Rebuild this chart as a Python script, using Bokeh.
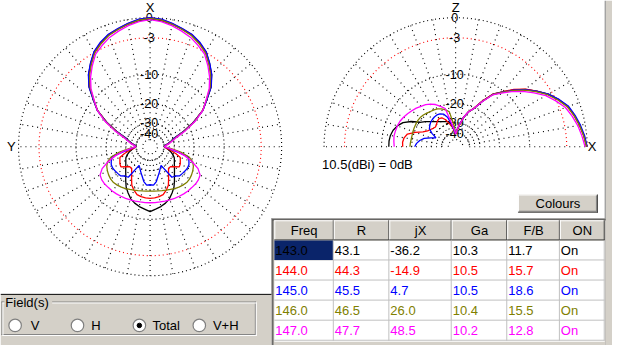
import numpy as np
from bokeh.plotting import figure
from bokeh.models import Range1d
from bokeh.core.properties import value
from bokeh.embed import file_html
from bokeh.resources import INLINE

# ---------------- data ----------------
freqs = ["143.0", "144.0", "145.0", "146.0", "147.0"]
colors = ["#000000", "#ff0000", "#0000ff", "#808000", "#ff00ff"]

# pattern sampling angles (deg), 0 = forward, symmetric pattern
angles = list(range(0, 181, 5))

# azimuth (horizontal plane) pattern, dB relative to 10.5 dBi
az_143 = [-0.2, -0.35, -0.7, -1.1, -1.5, -2.15, -2.9, -4.4, -5.9, -7.7, -10.1, -13.3, -17.9, -23.6, -29.4, -32.6, -35.6, -38.6, -39.5,
          -37.3, -35.0, -32.3, -30.0, -28.8, -28.1, -27.3, -26.2, -24.8, -23.1, -20.7, -18.7, -17.3, -15.8, -14.8, -14.0, -13.4, -12.6]
az_144 = [0.0, -0.2, -0.6, -1.05, -1.45, -2.15, -2.95, -4.5, -6.0, -7.8, -10.2, -13.3, -17.8, -23.4, -29.1, -32.2, -35.2, -38.3, -39.5,
          -37.7, -33.5, -28.9, -26.0, -25.4, -24.6, -24.2, -26.2, -27.7, -27.8, -26.0, -23.5, -20.3, -18.9, -17.8, -17.4, -17.2, -17.1]
az_145 = [0.0, -0.15, -0.55, -1.0, -1.4, -2.05, -2.85, -4.35, -5.85, -7.65, -10.0, -13.2, -17.8, -23.5, -29.3, -32.4, -35.4, -38.5, -39.5,
          -35.5, -29.3, -22.3, -21.3, -20.5, -20.3, -20.5, -20.8, -21.0, -22.5, -23.0, -32.3, -30.2, -28.5, -26.6, -24.0, -22.3, -22.6]
az_146 = [-0.1, -0.3, -0.7, -1.15, -1.6, -2.3, -3.1, -4.65, -6.2, -8.0, -10.3, -13.3, -17.6, -23.0, -28.6, -31.8, -34.9, -38.1, -39.5,
          -33.0, -26.5, -21.8, -19.5, -18.7, -18.2, -17.8, -17.5, -17.4, -17.6, -17.9, -18.2, -18.6, -18.9, -19.2, -19.4, -19.5, -19.5]
az_147 = [-0.3, -0.5, -0.9, -1.4, -1.9, -2.6, -3.4, -4.95, -6.5, -8.2, -10.4, -13.2, -17.2, -22.3, -27.8, -31.0, -34.3, -37.6, -39.5,
          -35.0, -28.5, -24.0, -19.7, -17.0, -15.4, -15.0, -14.9, -15.0, -15.0, -15.1, -15.2, -15.3, -15.4, -15.5, -15.6, -15.6, -15.6]

# elevation pattern (0 = horizon forward, 90 = zenith, 180 = horizon back)
el_143 = [-0.1, -0.4, -0.8, -1.25, -1.75, -2.6, -3.75, -5.3, -6.8, -8.5, -10.4, -12.8, -16.7, -20.4, -23.0, -26.5, -31.3, -36.5, -41.0,
          -36.0, -31.0, -28.9, -28.5, -28.0, -27.3, -26.5, -25.4, -23.9, -22.1, -20.2, -17.5, -15.3, -14.0, -13.1, -12.6, -12.4, -12.4]
el_144 = [0.0, -0.4, -0.85, -1.3, -1.8, -2.65, -3.8, -5.3, -6.75, -8.4, -10.3, -12.7, -16.6, -20.3, -23.0, -26.6, -31.4, -36.6, -41.0,
          -37.0, -33.0, -30.0, -27.5, -25.8, -25.5, -26.2, -27.2, -27.9, -27.5, -26.8, -25.9, -24.0, -20.5, -18.0, -17.2, -16.9, -17.0]
el_145 = [0.0, -0.3, -0.7, -1.15, -1.65, -2.55, -3.75, -5.35, -6.9, -8.6, -10.5, -13.0, -16.9, -20.6, -23.2, -26.7, -31.4, -36.6, -41.0,
          -37.0, -31.0, -26.5, -24.3, -23.5, -23.3, -23.5, -23.9, -24.4, -25.2, -26.1, -28.5, -32.5, -29.0, -25.8, -23.8, -22.4, -21.5]
el_146 = [-0.1, -0.45, -0.85, -1.3, -1.85, -2.75, -3.95, -5.5, -7.0, -8.7, -10.6, -13.0, -16.9, -20.5, -23.1, -26.6, -31.3, -36.5, -41.0,
          -31.0, -24.0, -22.5, -21.4, -20.7, -20.3, -20.0, -19.7, -19.4, -19.2, -19.2, -19.3, -19.4, -19.5, -19.6, -19.6, -19.5, -19.4]
el_147 = [-0.3, -0.7, -1.1, -1.6, -2.15, -3.1, -4.3, -5.9, -7.4, -9.0, -10.9, -13.2, -17.0, -20.5, -23.0, -26.4, -31.1, -36.3, -41.0,
          -36.0, -29.5, -21.8, -20.0, -18.8, -17.9, -17.2, -16.7, -16.1, -15.6, -15.1, -14.6, -14.2, -14.0, -13.9, -13.8, -14.0, -14.2]

ring_db = [0, -3, -10, -20, -30, -40]
ring_labels = ["0", "-3", "-10", "-20", "-30", "-40"]
ref_label = "10.5(dBi) = 0dB"

col_names = ["Freq", "R", "jX", "Ga", "F/B", "ON"]
res_r = ["43.1", "44.3", "45.5", "46.5", "47.7"]
res_jx = ["-36.2", "-14.9", "4.7", "26.0", "48.5"]
gain = ["10.3", "10.5", "10.5", "10.4", "10.2"]
fb = ["11.7", "15.7", "18.6", "15.5", "12.8"]
on = ["On", "On", "On", "On", "On"]
fields = ["V", "H", "Total", "V+H"]
field_selected = "Total"

# ---------------- helpers ----------------
DB_PTS = [-50, -40, -30, -20, -10, -3, 0]
R_PTS = [7.5, 14, 25, 45, 76, 114, 135]


def rad(db):
    return np.interp(np.asarray(db, float), DB_PTS, R_PTS)


FONT = value("Liberation Sans")
GRAY = "#d4d0c8"
DARK = "#808080"

W, H = 628, 361
p = figure(width=612, height=345, x_range=Range1d(0, W), y_range=Range1d(H, 0),
           x_axis_type=None, y_axis_type=None, toolbar_location=None,
           output_backend="svg", min_border=0, outline_line_color=None,
           background_fill_color="white", border_fill_color="white")


def txt(x, y, s, size="13px", align="left", color="#000000", baseline="middle"):
    p.text(x=[x], y=[y], text=[s], text_font=FONT, text_font_size=value(size),
           text_align=align, text_baseline=baseline, text_color=color)


def hline(x0, x1, y, color, w=1):
    p.segment(x0=[x0], y0=[y], x1=[x1], y1=[y], line_color=color, line_width=w)


def vline(x, y0, y1, color, w=1):
    p.segment(x0=[x], y0=[y0], x1=[x], y1=[y1], line_color=color, line_width=w)


AZ_C = (153.5, 153)
EL_C = (467, 153)

# ---- grids ----
t_full = np.radians(np.linspace(0, 360, 361))
t_half = np.radians(np.linspace(-90, 90, 181))
for (cx, cy), tt in ((AZ_C, t_full), (EL_C, t_half)):
    for db in ring_db + [-50]:
        r = float(rad(db))
        p.line(cx + r * np.sin(tt), cy - r * np.cos(tt),
               line_color="#ff0000" if db == -3 else "#000000",
               line_dash="1 3", line_width=1.15)

spk_xs, spk_ys = [], []
for a in range(0, 360, 10):
    t = np.radians(a)
    spk_xs.append([AZ_C[0] + 14 * np.sin(t), AZ_C[0] + 135 * np.sin(t)])
    spk_ys.append([AZ_C[1] - 14 * np.cos(t), AZ_C[1] - 135 * np.cos(t)])
for a in range(0, 181, 10):
    t = np.radians(a)
    spk_xs.append([EL_C[0] + 14 * np.cos(t), EL_C[0] + 135 * np.cos(t)])
    spk_ys.append([EL_C[1] - 14 * np.sin(t), EL_C[1] - 135 * np.sin(t)])
p.multi_line(spk_xs, spk_ys, line_color="#000000", line_dash="1 4", line_width=1.15)

# ring labels
for (cx, cy) in (AZ_C, EL_C):
    for db, lab in zip(ring_db, ring_labels):
        txt(cx - 1, cy - float(rad(db)), lab, size="12.5px", align="center")

txt(AZ_C[0], 7, "X", size="13px", align="center")
txt(11, 153, "Y", size="13px", align="center")
txt(EL_C[0], 7, "Z", size="13px", align="center")
txt(607, 153, "X", size="13px", align="center")

# ---- patterns ----
az_all = [az_143, az_144, az_145, az_146, az_147]
el_all = [el_143, el_144, el_145, el_146, el_147]
ang = np.array(angles, float)
for db, col in zip(az_all, colors):
    th = np.concatenate([ang, 360 - ang[::-1][1:]])
    vals = np.concatenate([np.array(db), np.array(db)[::-1][1:]])
    r = rad(vals)
    t = np.radians(th)
    p.line(AZ_C[0] + r * np.sin(t), AZ_C[1] - r * np.cos(t), line_color=col, line_width=1.3)
for db, col in zip(el_all, colors):
    r = rad(db)
    t = np.radians(ang)
    p.line(EL_C[0] + r * np.cos(t), EL_C[1] - r * np.sin(t), line_color=col, line_width=1.3)

txt(330, 172, ref_label, size="13px")

# ---- right strip ----
p.quad(left=[621], right=[628], top=[0], bottom=[361], fill_color=GRAY, line_color=None)
vline(620.5, 0, 361, DARK)

# ---- Colours button ----
p.quad(left=[531], right=[613], top=[203], bottom=[222], fill_color=GRAY, line_color=None)
hline(531, 613, 203.5, "#ffffff")
vline(531.5, 203, 222, "#ffffff")
hline(531, 613, 221.5, "#404040")
vline(612.5, 203, 222, "#404040")
hline(532, 612, 220.5, DARK)
vline(611.5, 204, 221, DARK)
txt(572, 212.5, "Colours", align="center")

# ---- table ----
col_x = [281, 342, 399, 463, 520, 574, 620]
row_y = [229, 251, 272, 293, 314, 335, 356]
p.quad(left=[278], right=[621], top=[228], bottom=[361], fill_color=GRAY, line_color=None)
p.quad(left=[281], right=[620], top=[251], bottom=[357], fill_color="white", line_color=None)
vline(278.5, 228, 361, DARK)
hline(278, 621, 228.5, DARK)
vline(279.5, 229, 361, "#404040")
hline(279, 621, 229.5, "#404040")
for i, name in enumerate(col_names):
    x0, x1 = col_x[i], col_x[i + 1]
    p.quad(left=[x0], right=[x1], top=[230], bottom=[251], fill_color=GRAY, line_color=None)
    hline(x0, x1 - 1, 230.5, "#ffffff")
    vline(x0 + 0.5, 230, 250, "#ffffff")
    hline(x0, x1, 250.5, "#404040")
    vline(x1 - 0.5, 230, 251, "#404040")
    txt((x0 + x1) / 2, 240.5, name, align="center")
for y in row_y[2:]:
    hline(281, 620, y - 0.5, "#c0c0c0")
for x in col_x[1:]:
    vline(x - 0.5, 251, 356, "#c0c0c0")
p.quad(left=[281], right=[341], top=[251], bottom=[271.5], fill_color="#0a246a", line_color=None)

table_cols = [freqs, res_r, res_jx, gain, fb, on]
for j in range(5):
    ym = (row_y[j + 1] + row_y[j + 2]) / 2
    for i, colvals in enumerate(table_cols):
        txt(col_x[i] + 1, ym, colvals[j], color=colors[j])

# ---- Field(s) panel ----
p.quad(left=[0], right=[278], top=[308], bottom=[361], fill_color=GRAY, line_color=None)
hline(0, 278, 307.5, "#000000")
for off, c in ((0, DARK), (1, "#ffffff")):
    hline(1 + off, 262 + off, 315.5 + off, c)
    hline(1 + off, 262 + off, 349.5 + off, c)
    vline(1.5 + off, 315 + off, 350 + off, c)
    vline(261.5 + off, 315 + off, 350 + off, c)
p.quad(left=[4], right=[53], top=[309], bottom=[322], fill_color=GRAY, line_color=None)
txt(5, 316.5, "Field(s)")
fx = [15, 79, 142.5, 204]
lx = [31, 93, 156, 218]
p.scatter(x=fx, y=[340] * 4, size=12.5, marker="circle", fill_color="white",
          line_color=DARK, line_width=1.2)
for x, lab, l in zip(fx, fields, lx):
    if lab == field_selected:
        p.scatter(x=[x], y=[340], size=4.5, marker="circle", fill_color="black", line_color="black")
    txt(l, 340, lab)

open("out.html", "w").write(file_html(p, INLINE))
